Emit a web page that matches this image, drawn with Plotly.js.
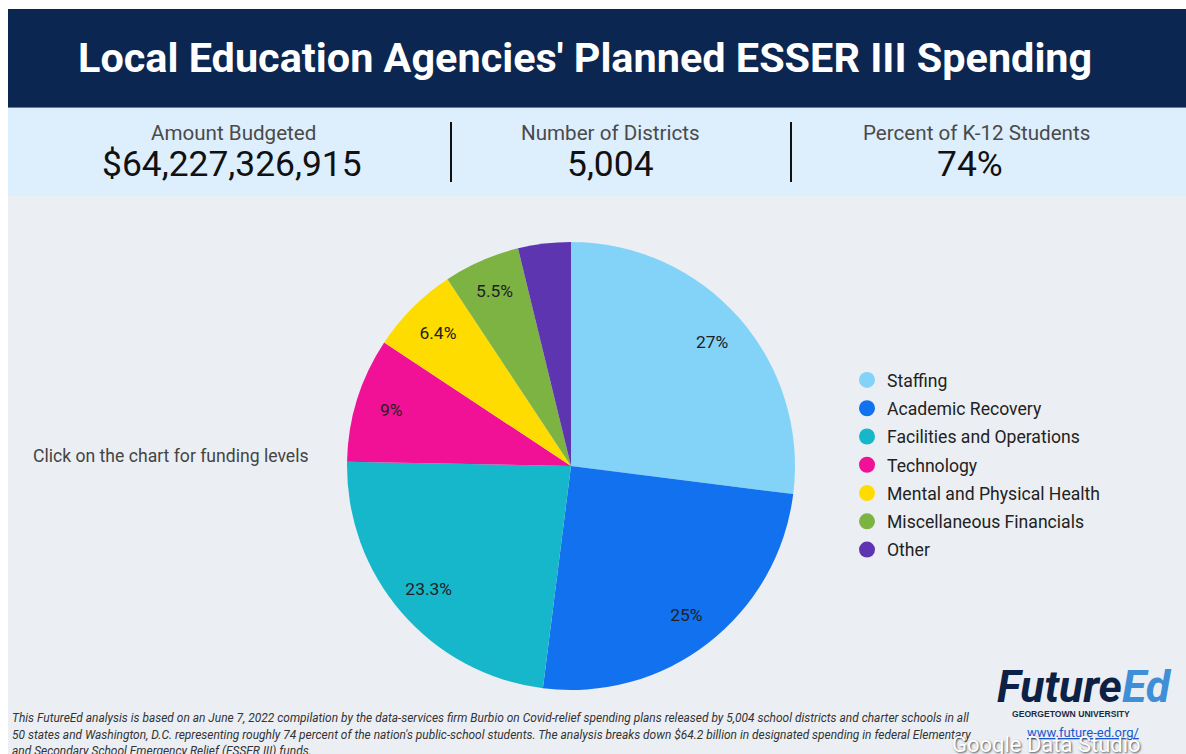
<!DOCTYPE html>
<html>
<head>
<meta charset="utf-8">
<script src="https://cdn.plot.ly/plotly-3.0.1.min.js"></script>
<style>
html,body{margin:0;padding:0;background:#ffffff;}
#chart{width:1186px;height:754px;}
</style>
</head>
<body>
<div id="chart"></div>
<script>
// ---- Data ----
const categories = ["Staffing", "Academic Recovery", "Facilities and Operations", "Technology", "Mental and Physical Health", "Miscellaneous Financials", "Other"];
const shares = [27, 25, 23.3, 9, 6.4, 5.5, 3.8];
const sliceLabels = ["27%", "25%", "23.3%", "9%", "6.4%", "5.5%", ""];
const colors = ["#83d3f8", "#1271ee", "#17b7cb", "#f01196", "#fedc00", "#7db343", "#5e35b1"];

const statLabels = ["Amount Budgeted", "Number of Districts", "Percent of K-12 Students"];
const statValues = ["$64,227,326,915", "5,004", "74%"];

const titleText = "Local Education Agencies' Planned ESSER III Spending";
const noteText = "Click on the chart for funding levels";
const footerLines = [
  "This FutureEd analysis is based on an June 7, 2022 compilation by the data-services firm Burbio on Covid-relief spending plans released by 5,004 school districts and charter schools in all",
  "50 states and Washington, D.C. representing roughly 74 percent of the nation's public-school students. The analysis breaks down $64.2 billion in designated spending in federal Elementary",
  "and Secondary School Emergency Relief (ESSER III) funds."
];

// ---- Layout helpers (pixel -> paper) ----
const W = 1186, H = 754;
const px = x => x / W;
const py = y => 1 - y / H;
const pieDomain = {x: [px(347), px(795)], y: [py(690), py(242)]};

const traces = [];
// coloured slices
traces.push({
  type: "pie",
  labels: categories,
  values: shares,
  textinfo: "none",
  marker: {colors: colors, line: {width: 0}},
  sort: false,
  direction: "clockwise",
  rotation: 0,
  showlegend: false,
  hoverinfo: "none",
  domain: pieDomain
});
// transparent ring carrying the percentage labels near the rim
traces.push({
  type: "pie",
  labels: categories,
  values: shares,
  text: sliceLabels,
  texttemplate: "%{text}",
  textposition: "inside",
  insidetextorientation: "horizontal",
  textfont: {family: "Roboto, sans-serif", size: 17.4, color: "#202124"},
  hole: 0.68,
  marker: {colors: categories.map(() => "rgba(0,0,0,0)"), line: {width: 0}},
  sort: false,
  direction: "clockwise",
  rotation: 0,
  showlegend: false,
  hoverinfo: "none",
  domain: pieDomain
});
// legend entries (circle markers) built from the same arrays
categories.forEach((c, i) => {
  traces.push({
    type: "scatter", mode: "markers",
    x: [null], y: [null],
    name: c, legendgroup: "g" + i,
    marker: {color: colors[i], size: 16, symbol: "circle"},
    hoverinfo: "none", showlegend: true
  });
});

const annotations = [];
// title
annotations.push({
  xref: "paper", yref: "paper", x: px(585), y: py(58),
  xanchor: "center", yanchor: "middle", showarrow: false,
  text: "<b>" + titleText + "</b>",
  font: {family: "Roboto, sans-serif", size: 41.4, color: "#ffffff"}
});
const statCenters = [233, 610, 976];
const valueCenters = [232, 610, 970];
statLabels.forEach((s, i) => {
  annotations.push({
    xref: "paper", yref: "paper", x: px(statCenters[i]), y: py(133),
    xanchor: "center", yanchor: "middle", showarrow: false,
    text: s, font: {family: "Roboto, sans-serif", size: 20.6, color: "#4a4a4a"}
  });
  annotations.push({
    xref: "paper", yref: "paper", x: px(valueCenters[i]), y: py(164),
    xanchor: "center", yanchor: "middle", showarrow: false,
    text: statValues[i], font: {family: "Roboto, sans-serif", size: 35.4, color: "#111111"}
  });
});
annotations.push({
  xref: "paper", yref: "paper", x: px(31), y: py(456),
  xanchor: "left", yanchor: "middle", showarrow: false,
  text: noteText, font: {family: "Roboto, sans-serif", size: 17.6, color: "#444444"}
});
footerLines.forEach((l, i) => {
  annotations.push({
    xref: "paper", yref: "paper", x: px(10), y: py(718 + i * 16.5),
    xanchor: "left", yanchor: "middle", showarrow: false,
    text: "<i>" + l + "</i>", font: {family: "Roboto, sans-serif", size: 11.95, color: "#333333"}
  });
});
// logo
annotations.push({
  xref: "paper", yref: "paper", x: px(1084), y: py(687),
  xanchor: "center", yanchor: "middle", showarrow: false,
  text: "<b><i><span style='color:#0d2146'>Future</span><span style='color:#3f8fd8'>Ed</span></i></b>",
  font: {family: "Roboto, sans-serif", size: 44.5, color: "#0d2146", weight: 900}
});
annotations.push({
  xref: "paper", yref: "paper", x: px(1071), y: py(714),
  xanchor: "center", yanchor: "middle", showarrow: false,
  text: "<b>GEORGETOWN UNIVERSITY</b>",
  font: {family: "Arial, Liberation Sans, sans-serif", size: 8.6, color: "#1b2a44"}
});
annotations.push({
  xref: "paper", yref: "paper", x: px(1083), y: py(732),
  xanchor: "center", yanchor: "middle", showarrow: false,
  text: "<span style='text-decoration:underline'>www.future-ed.org/</span>",
  font: {family: "Roboto, sans-serif", size: 13, color: "#1a57d0"}
});
annotations.push({
  xref: "paper", yref: "paper", x: px(1046), y: py(744),
  xanchor: "center", yanchor: "middle", showarrow: false,
  text: "Google Data Studio",
  font: {family: "Roboto, sans-serif", size: 22, color: "#ffffff", shadow: "1px 1px 2px #555555"}
});

const shapes = [
  {type: "rect", xref: "paper", yref: "paper", x0: px(8), x1: 1, y0: py(754), y1: py(196), fillcolor: "#ebeff3", line: {width: 0}, layer: "below"},
  {type: "rect", xref: "paper", yref: "paper", x0: px(8), x1: 1, y0: py(196), y1: py(107), fillcolor: "#ddeefd", line: {width: 0}, layer: "below"},
  {type: "rect", xref: "paper", yref: "paper", x0: px(8), x1: 1, y0: py(107), y1: py(9), fillcolor: "#0b2650", line: {width: 0}, layer: "below"},
  {type: "line", xref: "paper", yref: "paper", x0: px(8), x1: 1, y0: py(107.5), y1: py(107.5), line: {color: "#5d7da6", width: 1}, layer: "below"},
  {type: "line", xref: "paper", yref: "paper", x0: px(451), x1: px(451), y0: py(122), y1: py(182), line: {color: "#111111", width: 2}},
  {type: "line", xref: "paper", yref: "paper", x0: px(791), x1: px(791), y0: py(122), y1: py(182), line: {color: "#111111", width: 2}}
];

const layout = {
  width: W, height: H,
  margin: {l: 0, r: 0, t: 0, b: 0, pad: 0},
  paper_bgcolor: "#ffffff",
  plot_bgcolor: "rgba(0,0,0,0)",
  xaxis: {visible: false, domain: [0, 0.01]},
  yaxis: {visible: false, domain: [0, 0.01]},
  showlegend: true,
  legend: {
    x: px(847), y: py(362), xanchor: "left", yanchor: "top",
    bgcolor: "rgba(0,0,0,0)", borderwidth: 0,
    font: {family: "Roboto, sans-serif", size: 17.6, color: "#222222"},
    traceorder: "grouped", tracegroupgap: 2.4
  },
  annotations: annotations,
  shapes: shapes,
  hovermode: false
};

Plotly.newPlot("chart", traces, layout, {displayModeBar: false, staticPlot: true});
</script>
</body>
</html>
